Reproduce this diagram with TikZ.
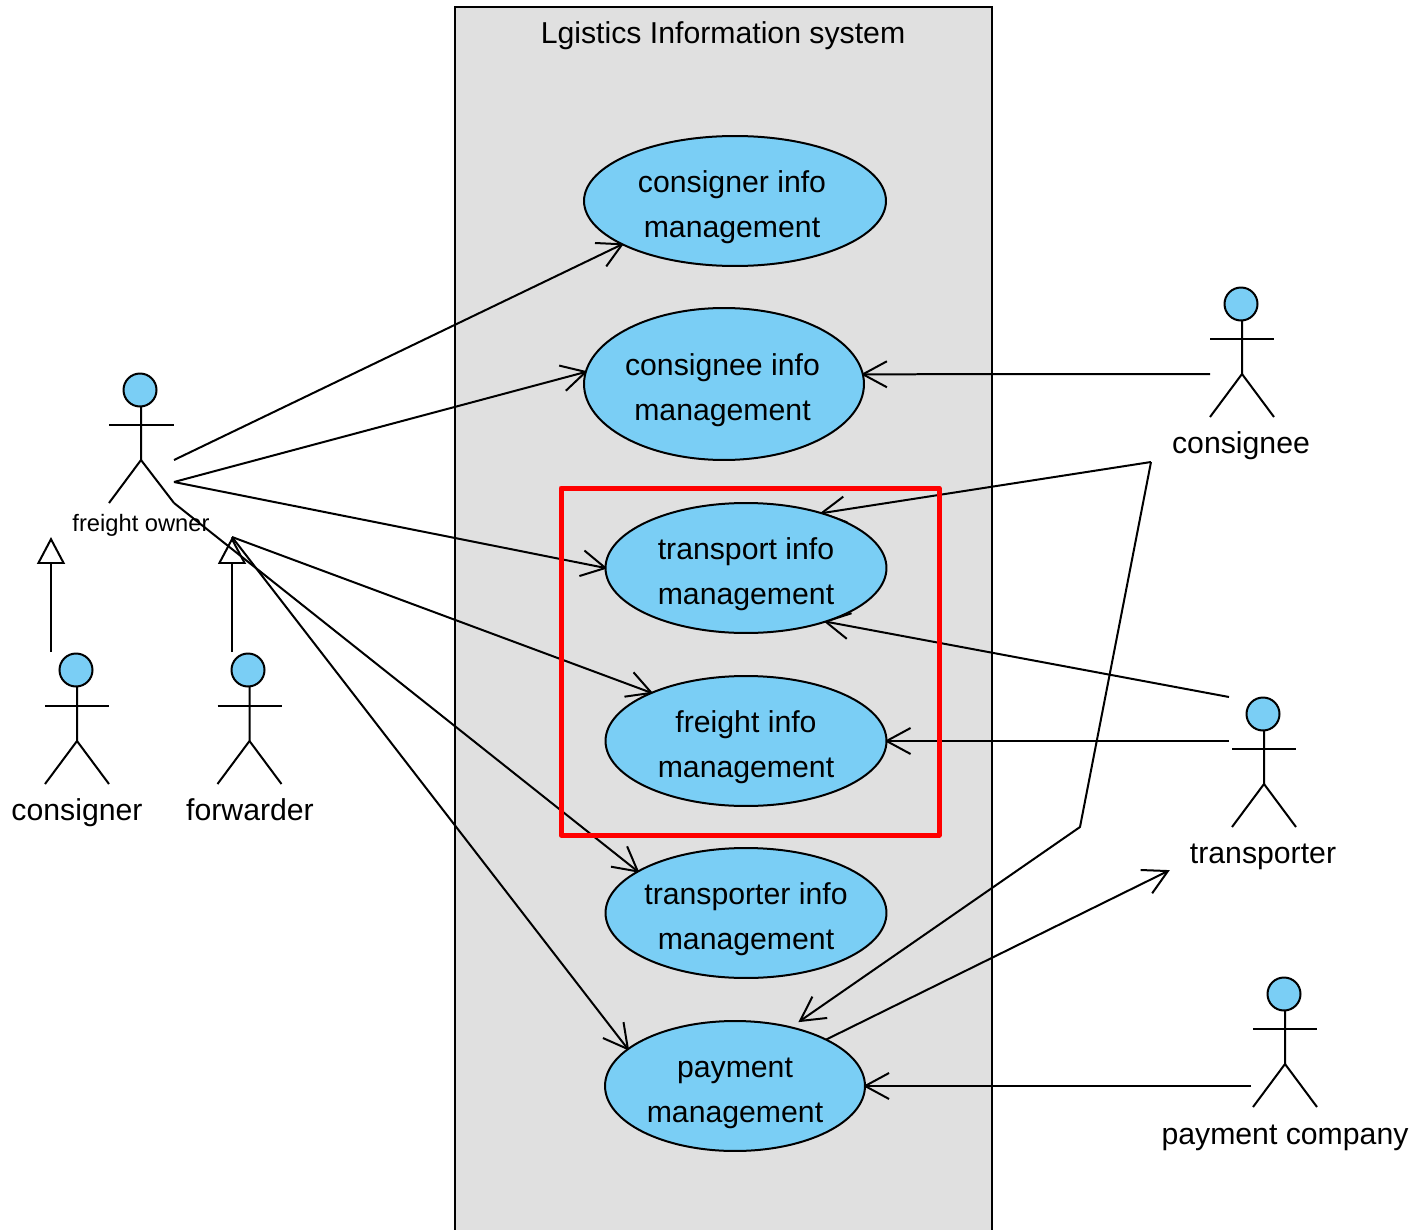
\documentclass[tikz,border=0pt]{standalone}
\usepackage{fontspec}
\setmainfont{Liberation Sans}
\usetikzlibrary{arrows.meta,shapes.geometric,backgrounds}
\definecolor{caseblue}{HTML}{7ACEF5}
\definecolor{sysgray}{HTML}{E0E0E0}
\newcommand{\casestrut}{\rule{0pt}{19.4pt}}
\begin{document}
\begin{tikzpicture}[x=0.02cm,y=-0.02cm,line width=0.04cm,
		usecase/.style={draw,ellipse,fill=caseblue,inner sep=0pt,outer sep=0pt,align=center,font=\fontsize{17.2}{25.5}\selectfont},
		actorhead/.style={draw,circle,fill=caseblue,inner sep=0pt,minimum size=0.66cm},
		actorname/.style={anchor=base,inner sep=0pt,font=\fontsize{17.2}{20}\selectfont},
		sysbox/.style={line width=0.04cm,fill=sysgray},
		link/.style={line width=0.04cm,-{Straight Barb[length=0.48cm,width=0.52cm]},shorten >=-0.04cm},
		gen/.style={line width=0.04cm,-{Triangle[open,fill=white,length=0.54cm,width=0.56cm]}}]
	\useasboundingbox (0,0) rectangle (1413,1230);

	%draw the use cases
	\node[usecase,minimum width=6.04cm,minimum height=2.6cm] (consignerinfo) at (735,201) {\casestrut consigner info\hspace*{0.12cm}\\management\hspace*{0.12cm}};
	\node[usecase,minimum width=5.6cm,minimum height=3.04cm] (consigneeinfo) at (724,384) {\casestrut consignee info\hspace*{0.06cm}\\management\hspace*{0.06cm}};
	\node[usecase,minimum width=5.62cm,minimum height=2.6cm] (transportinfo) at (746,568) {\casestrut transport info\\management};
	\node[usecase,minimum width=5.62cm,minimum height=2.6cm] (freightinfo) at (746,741) {\casestrut freight info\\management};
	\node[usecase,minimum width=5.62cm,minimum height=2.6cm] (transporterinfo) at (746,913) {\casestrut\makebox[3.6cm]{transporter info}\\management};
	\node[usecase,minimum width=5.2cm,minimum height=2.6cm] (payment) at (735,1086) {\casestrut payment\\management};

	%draw the title
	\node[actorname] (title) at (723,44) {Lgistics Information system};

	%draw the freight owner
	\node[actorhead] (owner) at (140,390) {};
	\draw (141,407) -- (141,460) -- (109,503);
	\draw (141,460) -- (174,503) coordinate (ownerfoot);
	\draw (109,425) -- (174,425);
	\node[actorname,font=\fontsize{13.5}{16}\selectfont] (ownerlabel) at (141,531) {freight owner};

	%draw the consigner
	\node[actorhead] (consigner) at (76,670) {};
	\draw (77,687) -- (77,741) -- (45,784);
	\draw (77,741) -- (109,784);
	\draw (45,706) -- (109,706);
	\node[actorname] (consignerlabel) at (77,820) {consigner};

	%draw the forwarder
	\node[actorhead] (forwarder) at (248,670) {};
	\draw (249.5,687) -- (249.5,741) -- (217.5,784);
	\draw (249.5,741) -- (281.5,784);
	\draw (217.5,706) -- (281.5,706);
	\node[actorname] (forwarderlabel) at (250,820) {forwarder};

	%draw the consignee
	\node[actorhead] (consignee) at (1241,304) {};
	\draw (1242,321) -- (1242,374) -- (1210,417);
	\draw (1242,374) -- (1274,417);
	\draw (1210,339) -- (1274,339);
	\node[actorname] (consigneelabel) at (1241,453) {consignee};

	%draw the transporter
	\node[actorhead] (transporter) at (1263,714) {};
	\draw (1264,731) -- (1264,784) -- (1232,827);
	\draw (1264,784) -- (1296,827);
	\draw (1232,749) -- (1296,749);
	\node[actorname] (transporterlabel) at (1263,863) {transporter};

	%draw the payment company
	\node[actorhead] (company) at (1284,994) {};
	\draw (1285,1011) -- (1285,1064) -- (1253,1107);
	\draw (1285,1064) -- (1317,1107);
	\draw (1253,1029) -- (1317,1029);
	\node[actorname] (companylabel) at (1285,1144) {payment company};

	%free ends of the connectors
	\coordinate (ownerarm) at (174,460);
	\coordinate (ownerhip) at (174,482);
	\coordinate (consignertip) at (51,537);
	\coordinate (consignerfoot) at (51,652);
	\coordinate (forwardertip) at (232,537);
	\coordinate (forwarderfoot) at (232,652);
	\coordinate (consigneehand) at (1210,374);
	\coordinate (transporterhand) at (1229,697);
	\coordinate (transporterhip) at (1229,741);
	\coordinate (companyhand) at (1251,1086);
	\coordinate (bendtop) at (1151,462);
	\coordinate (bendlow) at (1080,827);
	\coordinate (paymenttop) at (800,1021);
	\coordinate (transportertail) at (1168,871);

	\begin{pgfonlayer}{background}
	%draw the system box
	\draw[sysbox] (455,1240) -- (455,7) -- (992,7) -- (992,1240);

	%draw the generalizations
	\draw[gen] (consignerfoot) -- (consignertip);
	\draw[gen] (forwarderfoot) -- (forwardertip);

	%draw the links
	\draw[link] (ownerarm) -- (consignerinfo.201.8);
	\draw[link] (ownerhip) -- (consigneeinfo.175.9);
	\draw[link] (ownerhip) -- (transportinfo.west);
	\draw[link] (forwardertip) -- (freightinfo.153.2);
	\draw[link] (ownerfoot) -- (transporterinfo.159.6);
	\draw[link] (forwardertip) -- (payment.161.6);
	\draw[link] (consigneehand) -- (consigneeinfo.4.1);
	\draw[link] (transporterhand) -- (transportinfo.-34.8);
	\draw[link] (transporterhip) -- (freightinfo.east);
	\draw[link] (companyhand) -- (payment.east);
	\draw[link] (bendtop) -- (transportinfo.36.5);
	\draw[link] (bendtop) -- (bendlow) -- (paymenttop);
	\draw[link] (payment.27.3) -- (transportertail);
	\end{pgfonlayer}

	%draw the red frame
	\draw[red,line width=0.1cm,line join=round] (561,488) rectangle (939,835);
\end{tikzpicture}
\end{document}
